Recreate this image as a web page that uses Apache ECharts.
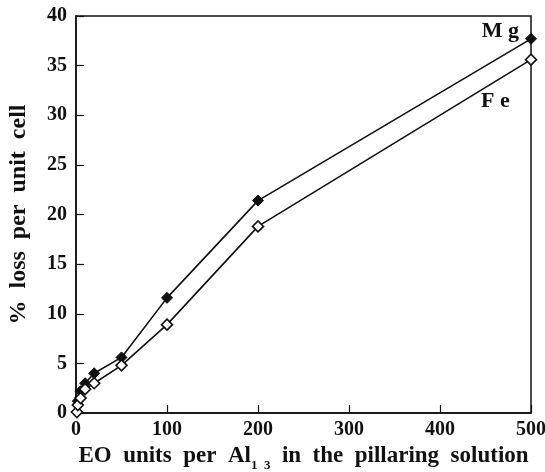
<!DOCTYPE html>
<html><head><meta charset="utf-8">
<script src="https://cdn.jsdelivr.net/npm/echarts@6/dist/echarts.min.js"></script>
<style>html,body{margin:0;padding:0;background:#fff}#c{width:545px;height:472px}</style>
</head><body><div id="c"></div>
<script>
const xTicks = [0, 100, 200, 300, 400, 500];
const yTicks = [0, 5, 10, 15, 20, 25, 30, 35, 40];
const mgX = [2, 5, 10, 20, 50, 100, 200, 500];
const mgY = [1.2, 2.2, 3.0, 4.0, 5.6, 11.6, 21.4, 37.7];
const feX = [1, 2, 5, 10, 20, 50, 100, 200, 500];
const feY = [0.1, 0.8, 1.5, 2.4, 3.0, 4.8, 8.9, 18.8, 35.6];
const seriesNames = ['Mg', 'Fe'];

const font = '"Liberation Serif", "DejaVu Serif", serif';
const chart = echarts.init(document.getElementById('c'), null, {renderer: 'canvas'});
const mk = (xs, ys) => xs.map((x, i) => [x, ys[i]]);
chart.setOption({
  animation: false,
  backgroundColor: '#fff',
  grid: {left: 76, right: 14, top: 16, bottom: 59, outerBoundsMode: 'none', containLabel: false,
    show: true, borderColor: '#111', borderWidth: 1.5, backgroundColor: 'transparent'},
  xAxis: {
    type: 'value', min: xTicks[0], max: xTicks[xTicks.length - 1], interval: 100,
    axisLine: {lineStyle: {color: '#111', width: 1.5}},
    axisTick: {inside: true, length: 8, lineStyle: {color: '#111', width: 1.2}},
    splitLine: {show: false},
    axisLabel: {color: '#111', fontFamily: font, fontWeight: 'bold', fontSize: 20, margin: 7},
    name: '{a|EO  units  per  Al}{s|1  3}{a|  in  the  pillaring  solution}',
    nameLocation: 'middle', nameGap: 32,
    nameTextStyle: {
      rich: {
        a: {fontFamily: font, fontWeight: 'bold', fontSize: 23, color: '#111', lineHeight: 24, verticalAlign: 'top'},
        s: {fontFamily: font, fontWeight: 'bold', fontSize: 13, color: '#111', lineHeight: 24, verticalAlign: 'top', padding: [14, 0, 0, 0]}
      }
    }
  },
  yAxis: {
    type: 'value', min: yTicks[0], max: yTicks[yTicks.length - 1], interval: 5,
    axisLine: {lineStyle: {color: '#111', width: 1.5}},
    axisTick: {inside: true, length: 8, lineStyle: {color: '#111', width: 1.2}},
    splitLine: {show: false},
    axisLabel: {color: '#111', fontFamily: font, fontWeight: 'bold', fontSize: 20, margin: 9},
    name: '%  loss  per  unit  cell', nameLocation: 'middle', nameGap: 45, nameRotate: 90,
    nameTextStyle: {fontFamily: font, fontWeight: 'bold', fontSize: 24, color: '#111'}
  },
  series: [
    {
      name: seriesNames[0], type: 'line', data: mk(mgX, mgY),
      symbol: 'diamond', symbolSize: 11, showAllSymbol: true,
      lineStyle: {color: '#111', width: 1.6},
      itemStyle: {color: '#111', borderColor: '#111', borderWidth: 1},
      label: {show: true, formatter: p => p.dataIndex === mgX.length - 1 ? 'M g' : '',
        position: 'left', distance: 6, offset: [0, -8],
        fontFamily: font, fontWeight: 'bold', fontSize: 22, color: '#111'}
    },
    {
      name: seriesNames[1], type: 'line', data: mk(feX, feY),
      symbol: 'diamond', symbolSize: 11, showAllSymbol: true,
      lineStyle: {color: '#111', width: 1.6},
      itemStyle: {color: '#fff', borderColor: '#111', borderWidth: 1.6},
      label: {show: true, formatter: p => p.dataIndex === feX.length - 1 ? 'F e' : '',
        position: 'left', distance: 15, offset: [0, 42],
        fontFamily: font, fontWeight: 'bold', fontSize: 22, color: '#111'}
    }
  ]
});
</script></body></html>
